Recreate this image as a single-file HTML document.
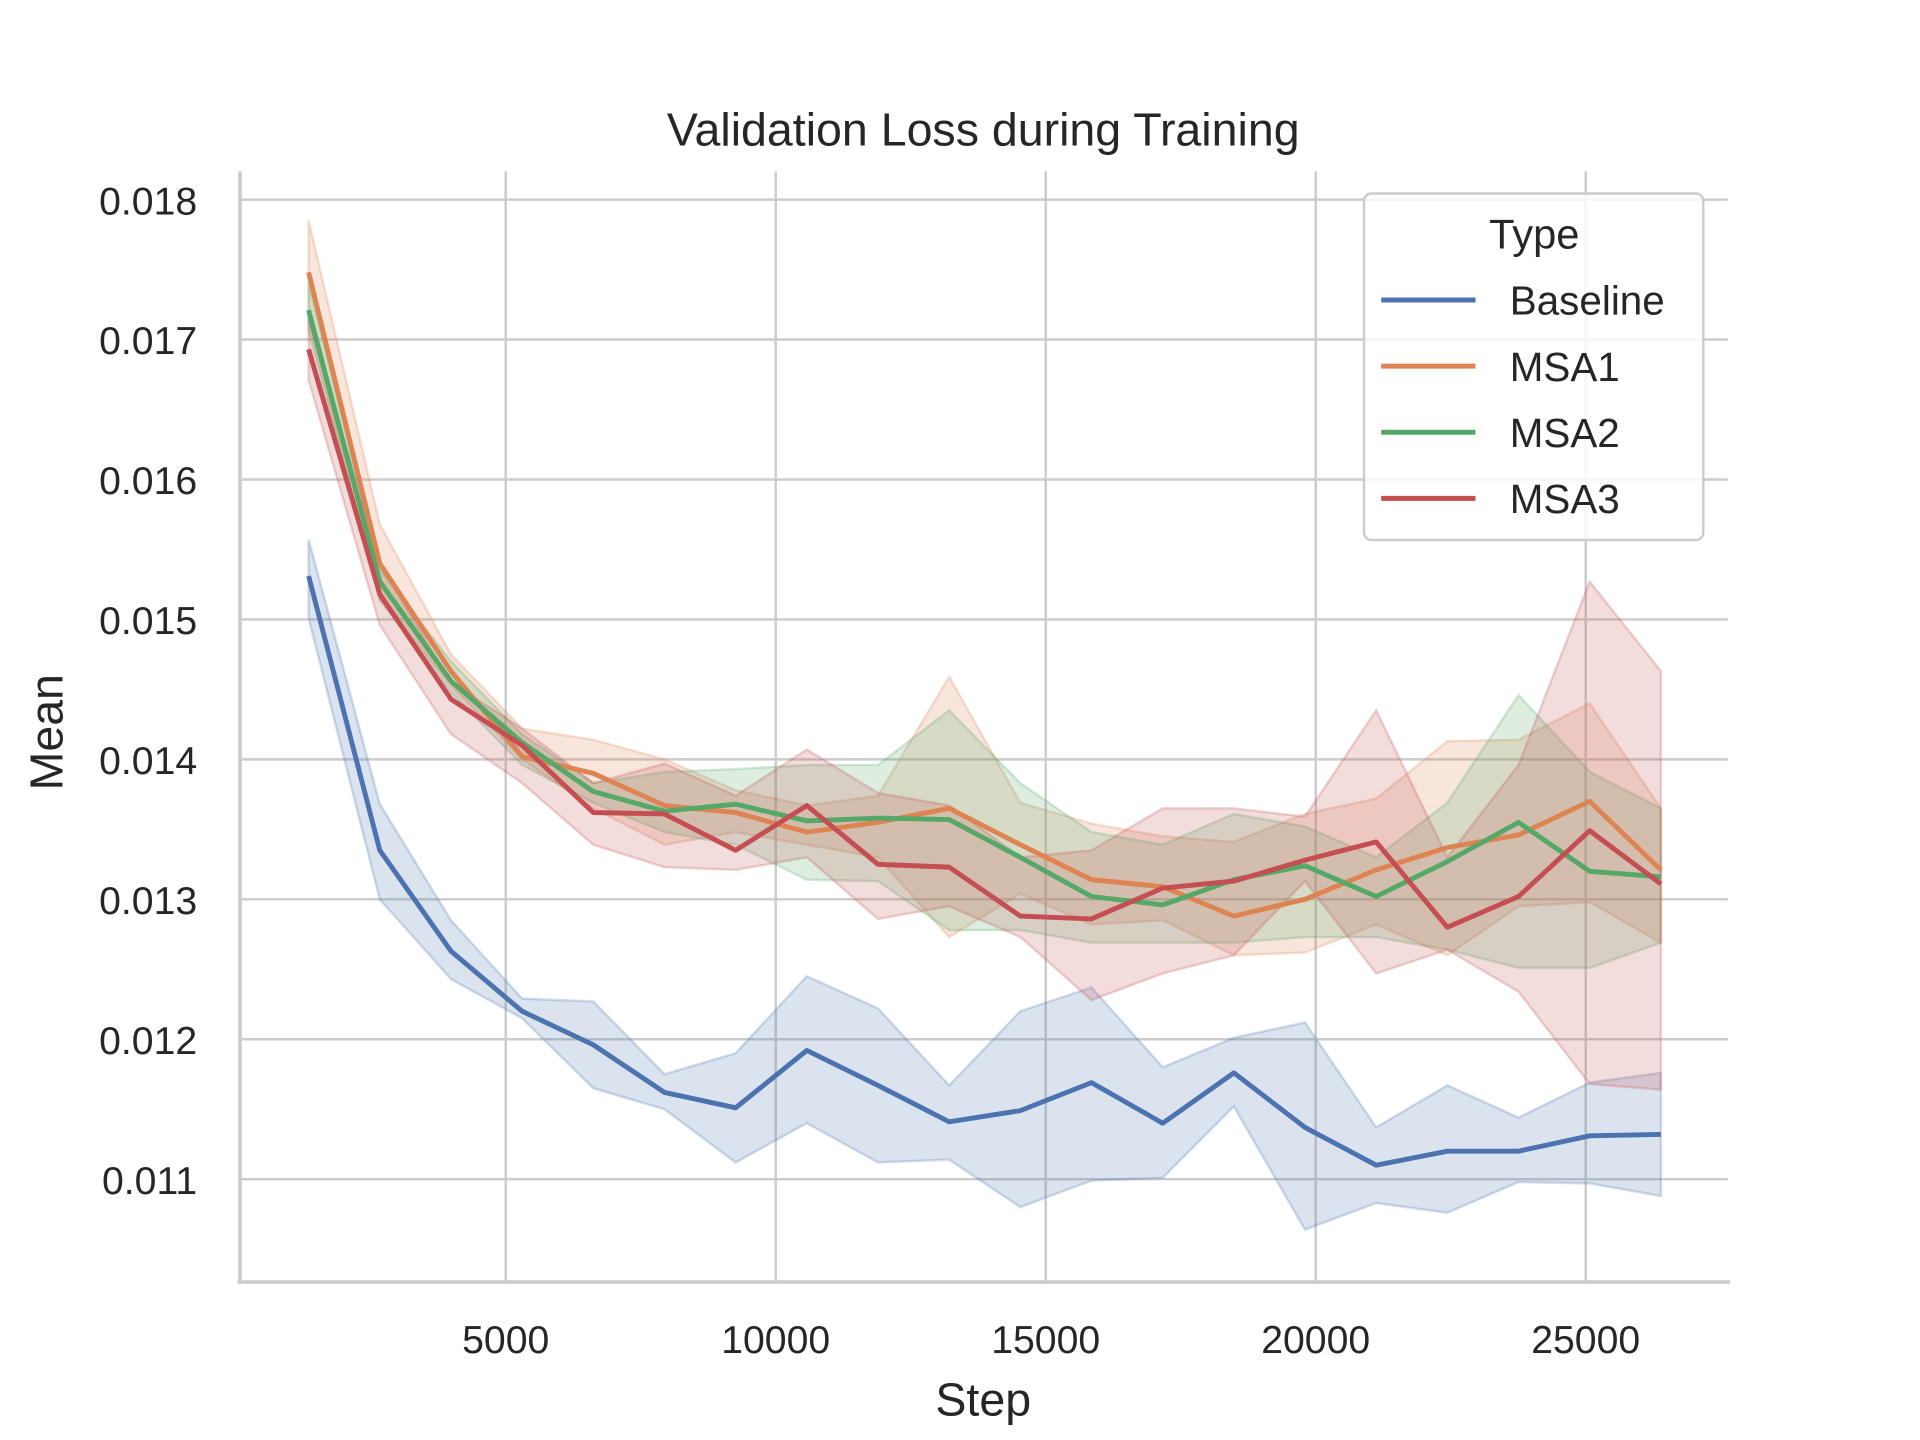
<!DOCTYPE html>
<html><head><meta charset="utf-8"><style>
html,body{margin:0;padding:0;background:#fff}
svg{display:block}
text{font-family:"Liberation Sans",Arial,sans-serif;fill:#262626}
</style></head><body>
<svg id="chart" width="1920" height="1440" viewBox="0 0 1568 1176" preserveAspectRatio="none" xmlns="http://www.w3.org/2000/svg">
<g id="grid"></g>
<g id="bands"></g>
<g id="lines"></g>
<g id="axes"></g>
<text x="803" y="119" font-size="38" text-anchor="middle">Validation Loss during Training</text>
<text x="803" y="1156" font-size="38" text-anchor="middle">Step</text>
<text x="51" y="598" font-size="38" text-anchor="middle" transform="rotate(-90 51 598)">Mean</text>
<g id="legend">
<rect x="1114" y="158" width="277" height="283" rx="6" fill="#fff" fill-opacity="0.8" stroke="#ccc" stroke-width="2"/>
<text x="1253" y="203" font-size="34" text-anchor="middle">Type</text>
</g>
</svg>
<script>
const steps=[1350,2668,3986,5304,6622,7940,9258,10576,11894,13212,14530,15848,17166,18484,19802,21120,22438,23756,25074,26392];
const seriesNames=["Baseline","MSA1","MSA2","MSA3"];
const seriesColors=["#4c72b0","#dd8452","#55a868","#c44e52"];
const baselineMean=[15.31,13.35,12.63,12.20,11.96,11.62,11.51,11.92,11.67,11.41,11.49,11.69,11.40,11.76,11.37,11.10,11.20,11.20,11.31,11.32];
const baselineUpper=[15.57,13.68,12.85,12.29,12.27,11.75,11.90,12.45,12.22,11.67,12.20,12.37,11.80,12.01,12.12,11.37,11.67,11.44,11.69,11.76];
const baselineLower=[15.01,13.00,12.43,12.15,11.65,11.50,11.12,11.40,11.12,11.14,10.80,10.99,11.01,11.52,10.64,10.83,10.76,10.98,10.97,10.88];
const msa1Mean=[17.48,15.40,14.63,14.02,13.90,13.67,13.62,13.48,13.55,13.65,13.39,13.14,13.09,12.88,13.00,13.21,13.37,13.46,13.70,13.21];
const msa1Upper=[17.85,15.68,14.75,14.22,14.14,14.00,13.78,13.67,13.74,14.59,13.69,13.54,13.45,13.41,13.61,13.72,14.13,14.14,14.40,13.65];
const msa1Lower=[17.13,15.14,14.53,14.00,13.65,13.39,13.48,13.39,13.30,12.73,13.04,12.82,12.85,12.60,12.62,12.82,12.60,12.95,12.98,12.69];
const msa2Mean=[17.21,15.27,14.56,14.12,13.77,13.63,13.68,13.56,13.58,13.57,13.30,13.02,12.96,13.14,13.24,13.02,13.27,13.55,13.20,13.16];
const msa2Upper=[17.40,15.36,14.70,14.18,13.83,13.91,13.93,13.96,13.96,14.35,13.83,13.48,13.39,13.61,13.52,13.30,13.69,14.46,13.91,13.65];
const msa2Lower=[17.06,15.14,14.48,13.96,13.69,13.48,13.39,13.14,13.13,12.78,12.78,12.69,12.69,12.69,12.73,12.73,12.64,12.51,12.51,12.69];
const msa3Mean=[16.93,15.18,14.43,14.10,13.62,13.61,13.35,13.67,13.25,13.23,12.88,12.86,13.08,13.13,13.28,13.41,12.80,13.02,13.49,13.11];
const msa3Upper=[17.15,15.40,14.55,14.22,13.83,13.97,13.74,14.07,13.76,13.67,13.30,13.35,13.65,13.65,13.59,14.35,13.30,13.96,15.27,14.63];
const msa3Lower=[16.71,14.96,14.18,13.83,13.39,13.23,13.21,13.30,12.86,12.95,12.73,12.28,12.47,12.60,13.13,12.47,12.64,12.34,11.68,11.64];
const xTicks=[5000,10000,15000,20000,25000];
const yTicks=[11,12,13,14,15,16,17,18];
const yTickLabels=["0.011","0.012","0.013","0.014","0.015","0.016","0.017","0.018"];

const NS="http://www.w3.org/2000/svg";
function xs(v){return 192.5+v*0.0441;}
function ys(v){return 163+(18-v)*114.286;}
function mk(tag,attrs,parent){const e=document.createElementNS(NS,tag);for(const k in attrs)e.setAttribute(k,attrs[k]);parent.appendChild(e);return e;}
const grid=document.getElementById('grid'),axes=document.getElementById('axes'),bandsG=document.getElementById('bands'),linesG=document.getElementById('lines'),legend=document.getElementById('legend');
xTicks.forEach((t)=>{
  const l=mk('line',{x1:xs(t),x2:xs(t),y1:140,y2:1047,stroke:'#cccccc','stroke-width':2},grid);
  
  
  const tx=mk('text',{x:xs(t),y:1105,'font-size':32,'text-anchor':'middle'},axes);
  tx.textContent=String(t);
  
  
});
yTicks.forEach((t,i)=>{
  const l=mk('line',{x1:196,x2:1411,y1:ys(t),y2:ys(t),stroke:'#cccccc','stroke-width':2},grid);
  
  
  const tx=mk('text',{x:161,y:ys(t)+12,'font-size':32,'text-anchor':'end'},axes);
  tx.textContent=yTickLabels[i];
  
  
});
const sp1=mk('line',{x1:196,x2:196,y1:140,y2:1048,stroke:'#cccccc','stroke-width':3},axes);


const sp2=mk('line',{x1:194,x2:1413,y1:1047,y2:1047,stroke:'#cccccc','stroke-width':3},axes);



const means=[baselineMean,msa1Mean,msa2Mean,msa3Mean];
const uppers=[baselineUpper,msa1Upper,msa2Upper,msa3Upper];
const lowers=[baselineLower,msa1Lower,msa2Lower,msa3Lower];
means.forEach((m,s)=>{
  let d='';
  uppers[s].forEach((v,i)=>{d+=(i?'L':'M')+xs(steps[i])+','+ys(v);});
  for(let i=lowers[s].length-1;i>=0;i--)d+='L'+xs(steps[i])+','+ys(lowers[s][i]);
  const b=mk('path',{d:d+'Z',fill:seriesColors[s],'fill-opacity':0.2,stroke:seriesColors[s],'stroke-opacity':0.25,'stroke-width':2},bandsG);
  
  
});
means.forEach((m,s)=>{
  const pts=m.map((v,i)=>xs(steps[i])+','+ys(v)).join(' ');
  const p=mk('polyline',{points:pts,fill:'none',stroke:seriesColors[s],'stroke-width':4,'stroke-linejoin':'round'},linesG);
  
  
  const y=245+s*54;
  const ll=mk('line',{x1:1128,x2:1205,y1:y,y2:y,stroke:seriesColors[s],'stroke-width':4},legend);
  
  
  const lt=mk('text',{x:1233,y:y+12,'font-size':33},legend);
  lt.textContent=seriesNames[s];
  
  
});
</script>
</body></html>
